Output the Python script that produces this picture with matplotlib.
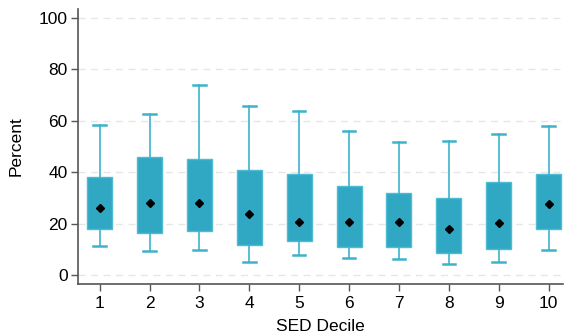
import matplotlib.pyplot as plt

plt.rcParams['font.family'] = ['Liberation Sans', 'DejaVu Sans']

deciles = [1, 2, 3, 4, 5, 6, 7, 8, 9, 10]
whislo = [11.2, 9.5, 9.7, 5.2, 7.8, 6.5, 6.1, 4.3, 5.2, 9.7]
q1 = [17.9, 16.3, 17.2, 11.5, 13.3, 10.8, 11.0, 8.7, 10.1, 17.9]
q3 = [38.2, 46.0, 45.2, 40.9, 39.4, 34.5, 31.8, 29.9, 36.1, 39.4]
whishi = [58.3, 62.4, 73.7, 65.7, 63.9, 55.8, 51.6, 52.2, 54.7, 58.0]
means = [25.9, 28.0, 28.0, 23.6, 20.5, 20.5, 20.7, 17.8, 20.3, 27.7]

stats = []
for i in range(len(deciles)):
    stats.append({'whislo': whislo[i], 'q1': q1[i], 'med': means[i],
                  'q3': q3[i], 'whishi': whishi[i], 'mean': means[i], 'fliers': []})

fig = plt.figure(figsize=(5.66, 3.35), dpi=100)
ax = fig.add_axes([78/566, 51/335, (563-78)/566, 275/335])

box_col = '#31a8c3'
line_col = '#3db3ca'
ax.bxp(stats, positions=deciles, widths=0.5, patch_artist=True,
       showmeans=True, showfliers=False,
       boxprops=dict(facecolor=box_col, edgecolor='#4dbcd2', linewidth=1),
       whiskerprops=dict(color=line_col, linewidth=1.2),
       capprops=dict(color=line_col, linewidth=1.8),
       medianprops=dict(linewidth=0),
       meanprops=dict(marker='D', markerfacecolor='black', markeredgecolor='black', markersize=4.3),
       capwidths=0.25)

# dashed gridlines
for y in range(0, 101, 20):
    ax.axhline(y, color='#e6e6e6', linestyle=(0, (5, 4)), linewidth=1, zorder=0)

ax.set_xlim(0.565, 10.29)
ax.set_ylim(-3.5, 103.4)
ax.set_xticks(deciles)
ax.set_xticklabels([str(d) for d in deciles])
ax.set_yticks(range(0, 101, 20))

for s in ['top', 'right']:
    ax.spines[s].set_visible(False)
for s in ['left', 'bottom']:
    ax.spines[s].set_color('#555555')
    ax.spines[s].set_linewidth(1.2)

ax.tick_params(axis='both', labelsize=12.5, length=5, color='#555555', width=1)
ax.tick_params(axis='y', pad=2.5)
ax.set_xlabel('SED Decile', fontsize=12.5, labelpad=6)
ax.set_ylabel('Percent', fontsize=12.5, labelpad=11)

fig.savefig('out.png', dpi=100)
